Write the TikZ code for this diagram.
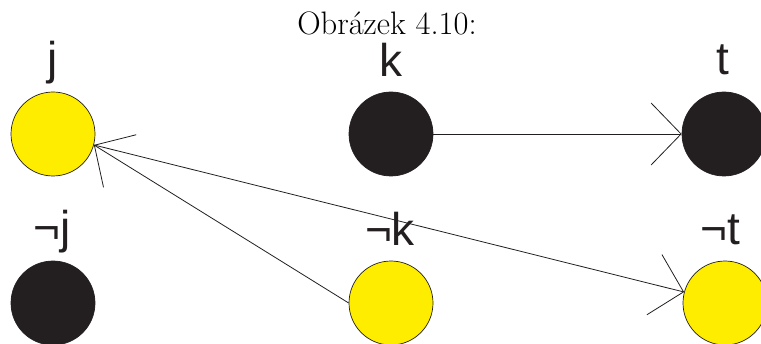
\documentclass[tikz,border=0pt]{standalone}
\usepackage{fontspec}
\newfontfamily\labfont{Liberation Sans}
\usetikzlibrary{arrows.meta}
\definecolor{dotyellow}{HTML}{FFED00}
\definecolor{dotblack}{HTML}{231F20}
\begin{document}
\begin{tikzpicture}[x=1pt,y=1pt,
  dot/.style={circle,draw=dotblack,line width=0.7pt,inner sep=0pt,minimum size=84pt},
  ydot/.style={dot,fill=dotyellow},
  bdot/.style={dot,fill=dotblack},
  lab/.style={anchor=base,inner sep=0pt,text=dotblack,font=\labfont\fontsize{46}{50}\selectfont},
  conn/.style={draw=dotblack,line width=0.8pt,-{Straight Barb[length=30pt,width=62pt,line width=0.8pt]}}]
\useasboundingbox (0,0) rectangle (761,343);
\node[anchor=base,inner sep=0pt,font=\fontsize{32.5}{36}\selectfont] (title) at (387,308) {Obrázek 4.10:};
\node[ydot] (j) at (53,209) {};
\node[bdot] (k) at (391,209) {};
\node[bdot] (t) at (724,209) {};
\node[bdot] (nj) at (53,40) {};
\node[ydot] (nk) at (391,40) {};
\node[ydot] (nt) at (725,40) {};
\node[lab] (lj) at (53,268) {j};
\node[lab] (lk) at (391,266) {k};
\node[lab] (lt) at (723,268) {t};
\node[lab] (lnj) at (52,99) {¬j};
\node[lab] (lnk) at (390,97) {¬k};
\node[lab] (lnt) at (720,98) {¬t};
\draw[conn] (k.east) -- (t.west);
\draw[conn] (nk.west) -- (j.-15);
\draw[conn] (j.-15) -- (nt.165);
\end{tikzpicture}
\end{document}
